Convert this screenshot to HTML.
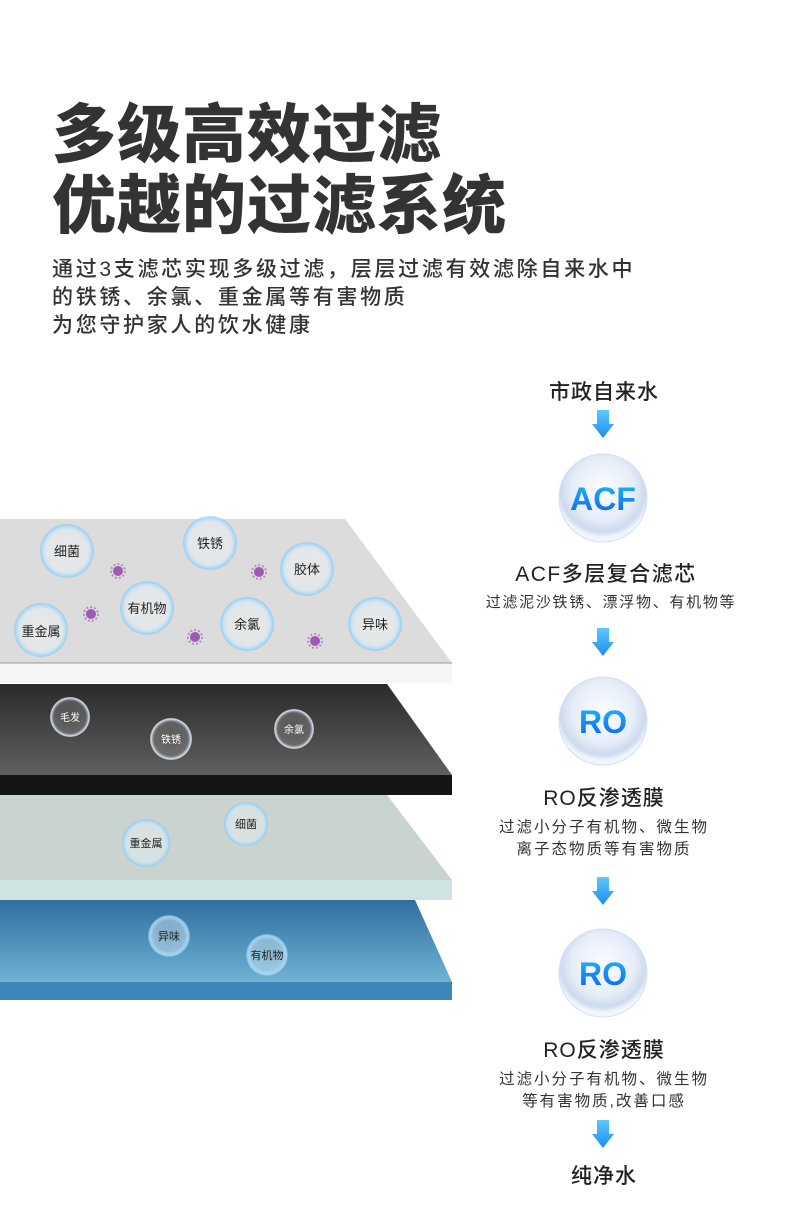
<!DOCTYPE html>
<html><head><meta charset="utf-8"><style>
body{margin:0;background:#fff;}
.wrap{position:relative;width:790px;height:1222px;overflow:hidden;background:#fff;font-family:"Liberation Sans","Noto Sans CJK SC",sans-serif;}
.t{position:absolute;left:52px;font-weight:900;color:#333;font-size:64px;letter-spacing:1px;line-height:1;white-space:nowrap}
.s{position:absolute;left:52px;font-size:21px;color:#333;font-weight:500;letter-spacing:2.7px;line-height:28px;white-space:nowrap}
</style></head><body><div class="wrap">
<div class="t" style="top:103px">多级高效过滤</div>
<div class="t" style="top:174px">优越的过滤系统</div>
<div class="s" style="top:256px">通过3支滤芯实现多级过滤，层层过滤有效滤除自来水中<br>的铁锈、余氯、重金属等有害物质<br>为您守护家人的饮水健康</div>
<svg width="790" height="1222" style="position:absolute;left:0;top:0" font-family="Liberation Sans, Noto Sans CJK SC, sans-serif">
<defs>
<radialGradient id="bub" cx="50%" cy="50%" r="50%">
<stop offset="0%" stop-color="#fff" stop-opacity="0.3"/>
<stop offset="75%" stop-color="#eef7ff" stop-opacity="0.4"/>
<stop offset="93%" stop-color="#a9d8f5" stop-opacity="0.9"/>
<stop offset="100%" stop-color="#7cc6f2" stop-opacity="0.5"/>
</radialGradient>
<radialGradient id="dbub" cx="50%" cy="50%" r="50%">
<stop offset="0%" stop-color="#888" stop-opacity="0.3"/>
<stop offset="80%" stop-color="#aaa" stop-opacity="0.3"/>
<stop offset="95%" stop-color="#e0f0ff" stop-opacity="0.9"/>
<stop offset="100%" stop-color="#fff" stop-opacity="0.5"/>
</radialGradient>
<radialGradient id="ball" cx="50%" cy="40%" r="55%">
<stop offset="0%" stop-color="#fbfdff"/>
<stop offset="65%" stop-color="#e6edf8"/>
<stop offset="88%" stop-color="#cdd9ee"/>
<stop offset="100%" stop-color="#f2f6fc"/>
</radialGradient>
<radialGradient id="halo" cx="50%" cy="50%" r="50%">
<stop offset="70%" stop-color="#dce6f5" stop-opacity="0.6"/>
<stop offset="100%" stop-color="#fff" stop-opacity="0"/>
</radialGradient>
<linearGradient id="txt" x1="0" y1="0" x2="0" y2="1">
<stop offset="0%" stop-color="#19b8ff"/><stop offset="100%" stop-color="#1560e8"/>
</linearGradient>
<linearGradient id="blue" x1="0" y1="0" x2="0" y2="1">
<stop offset="0%" stop-color="#2f6fa0"/><stop offset="100%" stop-color="#6eb2d3"/>
</linearGradient>
<linearGradient id="dark" x1="0" y1="0" x2="0" y2="1">
<stop offset="0%" stop-color="#2a2a2a"/><stop offset="100%" stop-color="#606060"/>
</linearGradient>
<linearGradient id="arr" x1="0" y1="0" x2="0" y2="1">
<stop offset="0%" stop-color="#5fc8ff"/><stop offset="100%" stop-color="#1a8ef0"/>
</linearGradient>
<g id="vir"><circle r="5" fill="#9a5bb0"/><circle r="7" fill="none" stroke="#b98acb" stroke-width="2" stroke-dasharray="2 2"/></g>
</defs>
<polygon points="0,900 415,900 452,982 0,982" fill="url(#blue)"/>
<rect x="0" y="982" width="452" height="18" fill="#3f86b8"/>
<polygon points="0,795 387,795 452,880 0,880" fill="#c9d3d0"/>
<rect x="0" y="880" width="452" height="20" fill="#cfe3e3"/>
<polygon points="0,684 387,684 452,775 0,775" fill="url(#dark)"/>
<rect x="0" y="775" width="452" height="20" fill="#151515"/>
<polygon points="0,519 345,519 452,663 0,663" fill="#dcdcdc"/>
<rect x="0" y="663" width="452" height="20" fill="#f6f6f6"/>
<line x1="0" y1="663" x2="452" y2="663" stroke="#999" stroke-width="1"/>
<use href="#vir" x="118" y="571"/><use href="#vir" x="259" y="572"/><use href="#vir" x="91" y="614"/><use href="#vir" x="195" y="637"/><use href="#vir" x="315" y="641"/>
<g font-size="13" fill="#222" text-anchor="middle">
<circle cx="67" cy="551" r="27" fill="url(#bub)"/><text x="67" y="556">细菌</text>
<circle cx="210" cy="543" r="27" fill="url(#bub)"/><text x="210" y="548">铁锈</text>
<circle cx="307" cy="569" r="27" fill="url(#bub)"/><text x="307" y="574">胶体</text>
<circle cx="147" cy="608" r="27" fill="url(#bub)"/><text x="147" y="613">有机物</text>
<circle cx="41" cy="630" r="27" fill="url(#bub)"/><text x="41" y="636">重金属</text>
<circle cx="247" cy="624" r="27" fill="url(#bub)"/><text x="247" y="629">余氯</text>
<circle cx="375" cy="624" r="27" fill="url(#bub)"/><text x="375" y="629">异味</text>
</g>
<g font-size="10" fill="#fff" text-anchor="middle">
<circle cx="70" cy="717" r="20" fill="url(#dbub)"/><text x="70" y="721">毛发</text>
<circle cx="171" cy="739" r="21" fill="url(#dbub)"/><text x="171" y="743">铁锈</text>
<circle cx="294" cy="729" r="20" fill="url(#dbub)"/><text x="294" y="733">余氯</text>
</g>
<g font-size="11" fill="#222" text-anchor="middle">
<circle cx="146" cy="843" r="24" fill="url(#bub)"/><text x="146" y="847">重金属</text>
<circle cx="246" cy="824" r="22" fill="url(#bub)"/><text x="246" y="828">细菌</text>
<circle cx="169" cy="936" r="21" fill="url(#bub)"/><text x="169" y="940">异味</text>
<circle cx="267" cy="955" r="21" fill="url(#bub)"/><text x="267" y="959">有机物</text>
</g>
<g text-anchor="middle" fill="#222">
<text x="604" y="399" font-size="21" font-weight="500" letter-spacing="1">市政自来水</text>
<polygon points="597,410 609,410 609,424 614,424 603,438 592,424 597,424" fill="url(#arr)"/>
<circle cx="603" cy="498" r="50" fill="url(#halo)"/>
<circle cx="603" cy="498" r="44" fill="url(#ball)" stroke="#d4e0f0"/>
<text x="603" y="510" font-size="32" font-weight="bold" fill="url(#txt)">ACF</text>
<text x="606" y="581" font-size="21" font-weight="500" letter-spacing="1.5">ACF多层复合滤芯</text>
<text x="611" y="607" font-size="15" fill="#333" letter-spacing="1.7">过滤泥沙铁锈、漂浮物、有机物等</text>
<polygon points="597,628 609,628 609,642 614,642 603,656 592,642 597,642" fill="url(#arr)"/>
<circle cx="603" cy="721" r="50" fill="url(#halo)"/>
<circle cx="603" cy="721" r="44" fill="url(#ball)" stroke="#d4e0f0"/>
<text x="603" y="733" font-size="32" font-weight="bold" fill="url(#txt)">RO</text>
<text x="604" y="805" font-size="21" font-weight="500" letter-spacing="1">RO反渗透膜</text>
<text x="604" y="832" font-size="15.5" fill="#333" letter-spacing="2">过滤小分子有机物、微生物</text>
<text x="604" y="854" font-size="15.5" fill="#333" letter-spacing="2">离子态物质等有害物质</text>
<polygon points="597,877 609,877 609,891 614,891 603,905 592,891 597,891" fill="url(#arr)"/>
<circle cx="603" cy="973" r="50" fill="url(#halo)"/>
<circle cx="603" cy="973" r="44" fill="url(#ball)" stroke="#d4e0f0"/>
<text x="603" y="985" font-size="32" font-weight="bold" fill="url(#txt)">RO</text>
<text x="604" y="1057" font-size="21" font-weight="500" letter-spacing="1">RO反渗透膜</text>
<text x="604" y="1084" font-size="15.5" fill="#333" letter-spacing="2">过滤小分子有机物、微生物</text>
<text x="604" y="1106" font-size="15.5" fill="#333" letter-spacing="2">等有害物质,改善口感</text>
<polygon points="597,1120 609,1120 609,1134 614,1134 603,1148 592,1134 597,1134" fill="url(#arr)"/>
<text x="604" y="1183" font-size="21" font-weight="500" letter-spacing="1">纯净水</text>
</g>
</svg>
</div></body></html>
